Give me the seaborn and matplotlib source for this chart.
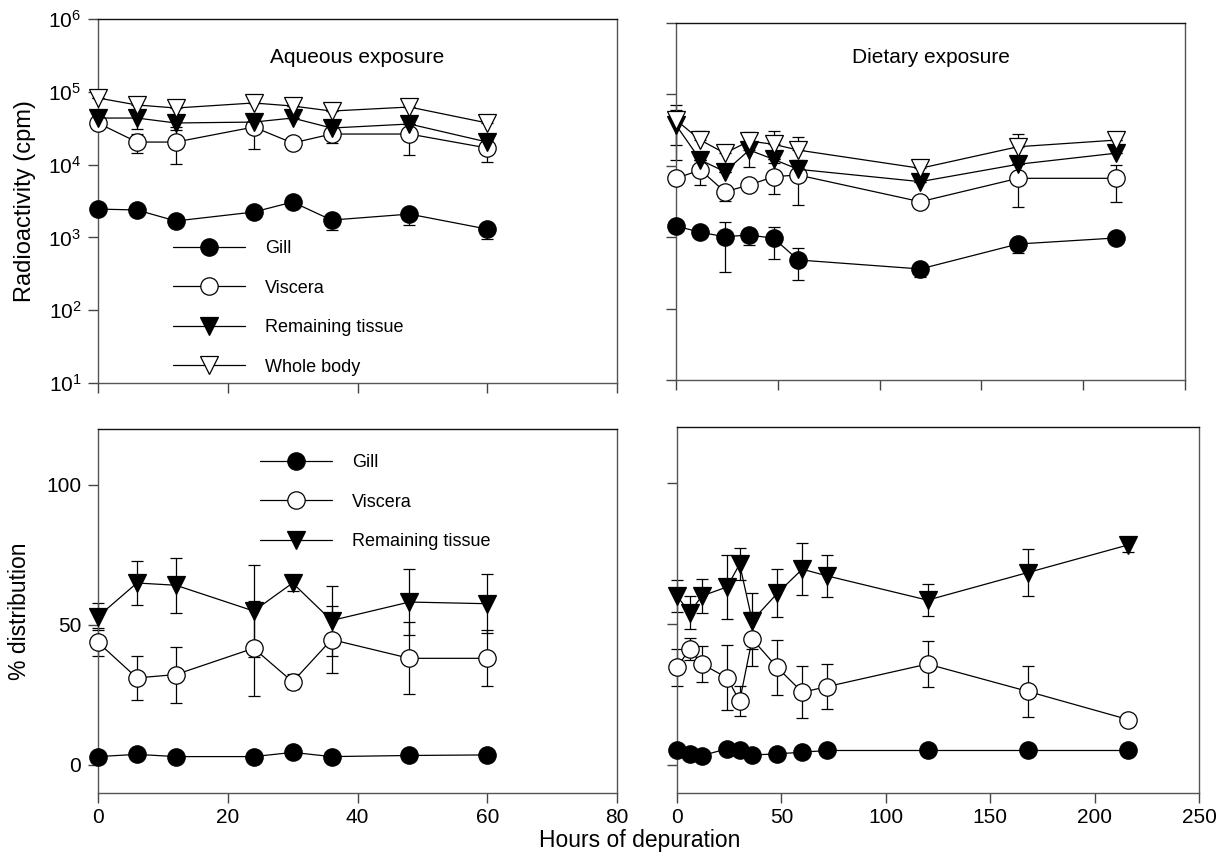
import numpy as np
import pandas as pd
import matplotlib
matplotlib.use("Agg")
import matplotlib.pyplot as plt
from matplotlib.ticker import LogLocator, NullLocator, FixedLocator
import seaborn as sns

# ---------------- data ----------------
hours_aq = [0, 6, 12, 24, 30, 36, 48, 60]
hours_di = [0, 12, 24, 36, 48, 60, 120, 168, 216]
hours_di_pct = [0, 6, 12, 24, 30, 36, 48, 60, 72, 120, 168, 216]

series_names = ["Gill", "Viscera", "Remaining tissue", "Whole body"]

# Aqueous exposure, radioactivity (cpm)
gill_aq = [2450, 2380, 1680, 2230, 3060, 1730, 2090, 1300]
gill_aq_lo = [2450, 2380, 1680, 2230, 3060, 1270, 1480, 950]
gill_aq_hi = [2450, 2380, 1680, 2230, 3060, 2100, 2400, 1500]
visc_aq = [37200, 20400, 20400, 32800, 19800, 26300, 26300, 16900]
visc_aq_lo = [37200, 14400, 10200, 16400, 19800, 19800, 13500, 10900]
visc_aq_hi = [37200, 26000, 30000, 40000, 19800, 33000, 36000, 22000]
rt_aq = [43600, 43600, 37300, 38400, 43600, 31800, 36100, 20400]
rt_aq_lo = [43600, 30900, 33000, 34000, 43600, 25000, 36100, 20400]
rt_aq_hi = [43600, 52000, 42000, 42000, 43600, 37000, 36100, 24000]
wb_aq = [82200, 65900, 59900, 70200, 63800, 54400, 61800, 37300]
wb_aq_lo = [82200, 65900, 59900, 70200, 63800, 54400, 61800, 37300]
wb_aq_hi = [82200, 82000, 72000, 70200, 63800, 54400, 61800, 45000]

# Dietary exposure, radioactivity (cpm)
gill_di = [1435, 1170, 1016, 1074, 966, 480, 359, 803, 975]
gill_di_lo = [1435, 1170, 326, 777, 496, 251, 280, 603, 975]
gill_di_hi = [1435, 1170, 1650, 1300, 1400, 700, 400, 900, 975]
visc_di = [6680, 8730, 4330, 5380, 7050, 7430, 3140, 6680, 6680]
visc_di_lo = [6680, 5380, 3240, 5380, 4030, 2830, 3140, 2670, 3080]
visc_di_hi = [6680, 12000, 5000, 5380, 11000, 12000, 3140, 10500, 10200]
rt_di = [37200, 12050, 8280, 16600, 12300, 8930, 6000, 10500, 15000]
rt_di_lo = [19500, 12050, 8280, 9720, 12300, 8930, 6000, 10500, 15000]
rt_di_hi = [60300, 12050, 8280, 16600, 12300, 8930, 6000, 10500, 15000]
wb_di = [43800, 22900, 15000, 22200, 20000, 16600, 9230, 18500, 22900]
wb_di_lo = [12000, 22900, 15000, 22200, 20000, 16600, 9230, 18500, 22900]
wb_di_hi = [71000, 31000, 18200, 30000, 30800, 25600, 11400, 27600, 22900]

# Aqueous exposure, % distribution
pct_gill_aq = [3.0, 3.8, 3.0, 3.0, 4.5, 3.0, 3.4, 3.6]
pct_visc_aq = [43.8, 31.1, 32.3, 41.7, 29.7, 44.8, 38.1, 38.1]
pct_visc_aq_err = [5.0, 8.0, 10.0, 17.0, 2.7, 12.0, 12.8, 10.0]
pct_rt_aq = [53.0, 65.0, 64.2, 55.0, 65.0, 51.6, 58.2, 57.6]
pct_rt_aq_err = [4.8, 7.8, 9.8, 16.6, 3.0, 12.5, 11.8, 10.5]

# Dietary exposure, % distribution
pct_gill_di = [5.1, 3.9, 3.3, 5.7, 5.3, 3.5, 3.9, 4.5, 5.1, 5.1, 5.1, 5.1]
pct_visc_di = [34.6, 41.1, 35.8, 30.9, 22.6, 44.7, 34.6, 25.8, 27.8, 35.8, 26.1, 16.1]
pct_visc_di_err = [6.7, 4.0, 6.3, 11.5, 5.4, 9.5, 9.7, 9.3, 8.1, 8.2, 9.0, 0.0]
pct_rt_di = [60.0, 54.1, 60.0, 63.2, 71.3, 51.2, 60.9, 69.5, 67.1, 58.5, 68.3, 78.1]
pct_rt_di_err = [5.6, 5.9, 6.1, 11.3, 5.6, 10.0, 8.5, 9.3, 7.6, 5.8, 8.3, 2.5]

# ---------------- style ----------------
sns.set_theme(style="ticks")
plt.rcParams["font.family"] = ["Liberation Sans", "DejaVu Sans"]
plt.rcParams["mathtext.fontset"] = "custom"
plt.rcParams["mathtext.rm"] = "Liberation Sans"
plt.rcParams["mathtext.it"] = "Liberation Sans:italic"
plt.rcParams["text.color"] = "black"
plt.rcParams["axes.labelcolor"] = "black"
plt.rcParams["xtick.color"] = "black"
plt.rcParams["ytick.color"] = "black"

W, H = 1224, 859
fig = plt.figure(figsize=(W / 100, H / 100), dpi=100)

def box(x0, y0, x1, y1):
    return [x0 / W, 1 - y1 / H, (x1 - x0) / W, (y1 - y0) / H]

axTL = fig.add_axes(box(98, 19, 617, 383))
axTR = fig.add_axes(box(676, 23, 1185, 380))
axBL = fig.add_axes(box(98, 429, 617, 793))
axBR = fig.add_axes(box(677, 427, 1199, 793))

styles = {
    "Gill": dict(marker="o", mfc="black"),
    "Viscera": dict(marker="o", mfc="white"),
    "Remaining tissue": dict(marker="v", mfc="black"),
    "Whole body": dict(marker="v", mfc="white"),
}


def draw(ax, x, y, name, lo=None, hi=None, err=None, label=True):
    st = styles[name]
    x = np.asarray(x, float)
    y = np.asarray(y, float)
    if err is not None:
        e = np.asarray(err, float)
        yerr = [e, e]
    else:
        yerr = [y - np.asarray(lo, float), np.asarray(hi, float) - y]
    ax.errorbar(x, y, yerr=yerr, fmt="none", ecolor="black", elinewidth=0.9,
                capsize=4.5, capthick=0.9, zorder=2, clip_on=False)
    df = pd.DataFrame({"h": x, "v": y})
    sns.lineplot(data=df, x="h", y="v", ax=ax, color="black", linewidth=0.9,
                 marker=st["marker"], markersize=12.5, markerfacecolor=st["mfc"],
                 markeredgecolor="black", markeredgewidth=0.9,
                 label=name if label else None, legend=False,
                 zorder=3, clip_on=False, errorbar=None)


axTL.set_yscale("log")
axTR.set_yscale("log")
draw(axTL, hours_aq, gill_aq, "Gill", gill_aq_lo, gill_aq_hi)
draw(axTL, hours_aq, visc_aq, "Viscera", visc_aq_lo, visc_aq_hi)
draw(axTL, hours_aq, rt_aq, "Remaining tissue", rt_aq_lo, rt_aq_hi)
draw(axTL, hours_aq, wb_aq, "Whole body", wb_aq_lo, wb_aq_hi)

draw(axTR, hours_di, gill_di, "Gill", gill_di_lo, gill_di_hi, label=False)
draw(axTR, hours_di, visc_di, "Viscera", visc_di_lo, visc_di_hi, label=False)
draw(axTR, hours_di, rt_di, "Remaining tissue", rt_di_lo, rt_di_hi, label=False)
draw(axTR, hours_di, wb_di, "Whole body", wb_di_lo, wb_di_hi, label=False)

draw(axBL, hours_aq, pct_gill_aq, "Gill", err=np.zeros(len(hours_aq)))
draw(axBL, hours_aq, pct_visc_aq, "Viscera", err=pct_visc_aq_err)
draw(axBL, hours_aq, pct_rt_aq, "Remaining tissue", err=pct_rt_aq_err)

draw(axBR, hours_di_pct, pct_gill_di, "Gill", err=np.zeros(len(hours_di_pct)), label=False)
draw(axBR, hours_di_pct, pct_visc_di, "Viscera", err=pct_visc_di_err, label=False)
draw(axBR, hours_di_pct, pct_rt_di, "Remaining tissue", err=pct_rt_di_err, label=False)

for ax in (axTL, axTR):
    ax.set_ylim(10, 1e6)
    ax.yaxis.set_major_locator(LogLocator(base=10, numticks=10))
    ax.yaxis.set_minor_locator(NullLocator())
for ax in (axBL, axBR):
    ax.set_ylim(-10, 120)
    ax.yaxis.set_major_locator(FixedLocator([0, 50, 100]))
for ax in (axTL, axBL):
    ax.set_xlim(0, 80)
    ax.xaxis.set_major_locator(FixedLocator([0, 20, 40, 60, 80]))
for ax in (axTR, axBR):
    ax.set_xlim(0, 250)
    ax.xaxis.set_major_locator(FixedLocator([0, 50, 100, 150, 200, 250]))

for ax in (axTL, axTR, axBL, axBR):
    ax.set_xlabel("")
    ax.set_ylabel("")
    for side in ("left", "right", "bottom"):
        ax.spines[side].set_color("#555555")
        ax.spines[side].set_linewidth(1.0)
        ax.spines[side].set_visible(True)
    ax.spines["top"].set_color("#111111")
    ax.spines["top"].set_linewidth(1.0)
    ax.spines["top"].set_visible(True)
    ax.tick_params(axis="both", which="major", direction="out", length=7,
                   width=1.0, color="#444444", labelsize=15, labelcolor="black")
    ax.tick_params(axis="y", pad=5)
    ax.tick_params(axis="x", pad=4)
    ax.set_facecolor("white")

axTL.tick_params(axis="x", labelbottom=False)
axTR.tick_params(axis="x", labelbottom=False)
axTR.tick_params(axis="y", labelleft=False)
axBR.tick_params(axis="y", labelleft=False)

axTL.set_ylabel("Radioactivity (cpm)", fontsize=17, labelpad=9, color="black")
axBL.set_ylabel("% distribution", fontsize=16.5, labelpad=11, color="black")

axTL.text(0.5, 0.893, "Aqueous exposure", transform=axTL.transAxes,
          ha="center", va="center", fontsize=15, color="black")
axTR.text(0.5, 0.903, "Dietary exposure", transform=axTR.transAxes,
          ha="center", va="center", fontsize=15, color="black")

fig.text(640 / W, 1 - 840 / H, "Hours of depuration", ha="center", va="center",
         fontsize=16.5, color="black")

leg_kw = dict(frameon=False, fontsize=13, handlelength=4.0, handletextpad=1.1,
              labelspacing=1.25, numpoints=1, borderpad=0, borderaxespad=0,
              loc="upper left", labelcolor="black")
h, l = axTL.get_legend_handles_labels()
axTL.legend(h, l, bbox_to_anchor=((173 - 98) / 519, (383 - 240) / 364), **leg_kw)
h, l = axBL.get_legend_handles_labels()
axBL.legend(h, l, bbox_to_anchor=((260 - 98) / 519, (793 - 454) / 364), **leg_kw)

fig.savefig("out.png", dpi=100, facecolor="white")
